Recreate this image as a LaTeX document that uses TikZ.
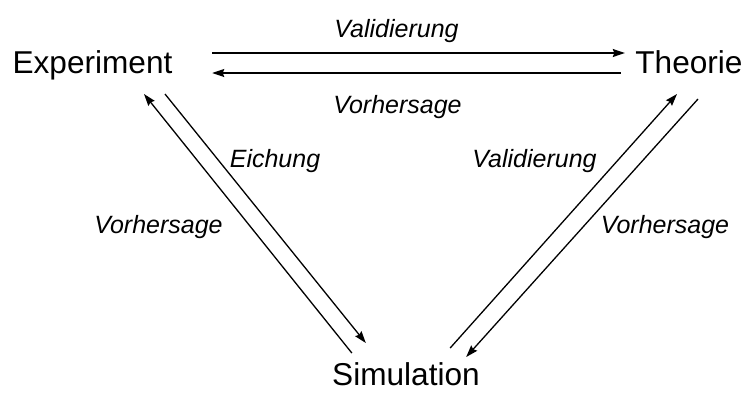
\documentclass[tikz,border=0pt]{standalone}
\usepackage{fontspec}
\setmainfont{Liberation Sans}
\usetikzlibrary{arrows.meta,calc}
\begin{document}
\begin{tikzpicture}[x=1bp,y=-1bp,
  main/.style={inner sep=0pt,anchor=base,font=\fontsize{31.6bp}{36bp}\selectfont},
  lab/.style={inner sep=0pt,anchor=base,font=\fontsize{25bp}{30bp}\selectfont\itshape},
  conn/.style={line width=1.3bp,-{Stealth[length=12bp,width=8bp,inset=1.5bp]}}]
\useasboundingbox (0,0) rectangle (747,392);
\node[main] (E) at (92.5,73) {Experiment};
\node[main] (T) at (689,73) {Theorie};
\node[main] (S) at (406,385.5) {Simulation};
% top
\draw[conn] ($(E.base east)+(39.6,-20)$) -- ($(T.base west)+(-10.4,-20)$);
\draw[conn] ($(T.base west)+(-14.4,0)$) -- ($(E.base east)+(39.6,0)$);
% left
\draw[conn] ($(S.base west)+(19.8,-32.5)$) -- ($(E.base)+(51.5,21)$);
\draw[conn] ($(E.base)+(72.5,21)$) -- ($(S.base west)+(33.8,-42.5)$);
% right
\draw[conn] ($(S.base east)+(-29.8,-37.5)$) -- ($(T.base)+(-12,21)$);
\draw[conn] ($(T.base)+(9,26)$) -- ($(S.base east)+(-13.8,-28.5)$);
% labels
\node[lab] (l1) at (396.5,37) {Validierung};
\node[lab] (l2) at (397.5,113) {Vorhersage};
\node[lab] (l3) at (275,167) {Eichung};
\node[lab] (l4) at (158.5,233) {Vorhersage};
\node[lab] (l5) at (534.5,167) {Validierung};
\node[lab] (l6) at (665,233) {Vorhersage};
\end{tikzpicture}
\end{document}
